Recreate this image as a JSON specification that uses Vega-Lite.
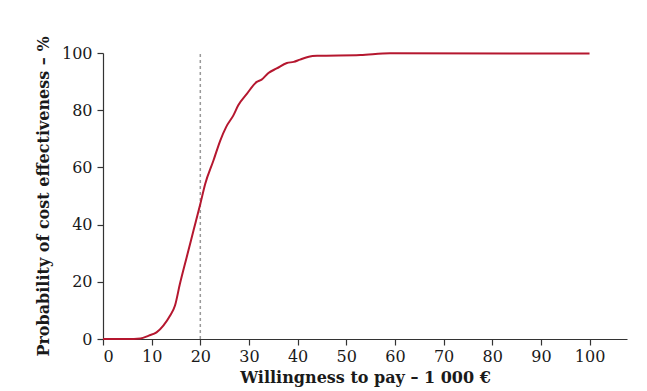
{
  "$schema": "https://vega.github.io/schema/vega-lite/v6.json",
  "width": 524,
  "height": 286,
  "autosize": "none",
  "padding": {"left": 103, "top": 53, "right": 20, "bottom": 52},
  "background": "white",
  "config": {
    "view": {"stroke": null},
    "axis": {
      "labelFont": "DejaVu Serif",
      "titleFont": "DejaVu Serif",
      "labelFontSize": 16,
      "titleFontSize": 16,
      "labelColor": "#1a1a1a",
      "titleColor": "#1a1a1a",
      "domainColor": "#333",
      "tickColor": "#333",
      "grid": false,
      "tickSize": 6,
      "domainWidth": 1.2,
      "tickWidth": 1.2
    }
  },
  "datasets": {
    "curve": [
      {"wtp": 0, "p": 0},
      {"wtp": 5, "p": 0},
      {"wtp": 7.7, "p": 0.2},
      {"wtp": 9.4, "p": 1.2},
      {"wtp": 11.0, "p": 2.3},
      {"wtp": 12.4, "p": 4.7},
      {"wtp": 13.8, "p": 8.2},
      {"wtp": 14.8, "p": 11.7},
      {"wtp": 15.8, "p": 19.2},
      {"wtp": 17.2, "p": 28.6},
      {"wtp": 18.6, "p": 37.9},
      {"wtp": 20.0, "p": 47.2},
      {"wtp": 21.0, "p": 54.2},
      {"wtp": 22.7, "p": 62.4},
      {"wtp": 24.1, "p": 69.4},
      {"wtp": 25.3, "p": 74.1},
      {"wtp": 26.8, "p": 78.2},
      {"wtp": 27.8, "p": 81.7},
      {"wtp": 29.6, "p": 85.8},
      {"wtp": 31.6, "p": 89.9},
      {"wtp": 32.6, "p": 90.7},
      {"wtp": 34.0, "p": 93.0},
      {"wtp": 35.7, "p": 94.6},
      {"wtp": 37.8, "p": 96.5},
      {"wtp": 39.2, "p": 96.9},
      {"wtp": 40.5, "p": 97.7},
      {"wtp": 42.3, "p": 98.7},
      {"wtp": 44.0, "p": 99.0},
      {"wtp": 52.9, "p": 99.3},
      {"wtp": 59.0, "p": 99.9},
      {"wtp": 100, "p": 99.8}
    ],
    "ref": [
      {"wtp": 20, "p0": 0, "p1": 100}
    ]
  },
  "layer": [
    {
      "data": {"name": "ref"},
      "mark": {"type": "rule", "color": "#999999", "strokeDash": [3, 3], "strokeWidth": 1.5},
      "encoding": {
        "x": {"field": "wtp", "type": "quantitative"},
        "y": {"field": "p0", "type": "quantitative"},
        "y2": {"field": "p1"}
      }
    },
    {
      "data": {"name": "curve"},
      "mark": {"type": "line", "color": "#B5172F", "strokeWidth": 2, "interpolate": "monotone"},
      "encoding": {
        "x": {
          "field": "wtp",
          "type": "quantitative",
          "scale": {"domain": [0, 107.7], "nice": false, "zero": false},
          "axis": {
            "values": [0, 10, 20, 30, 40, 50, 60, 70, 80, 90, 100],
            "title": "Willingness to pay – 1 000 €",
            "titleFontWeight": "bold",
            "titlePadding": 5,
            "labelPadding": 3
          }
        },
        "y": {
          "field": "p",
          "type": "quantitative",
          "scale": {"domain": [0, 100], "nice": false},
          "axis": {
            "values": [0, 20, 40, 60, 80, 100],
            "title": "Probability of cost effectiveness – %",
            "titleFontWeight": "bold",
            "titlePadding": 10,
            "labelPadding": 5
          }
        }
      }
    }
  ]
}
